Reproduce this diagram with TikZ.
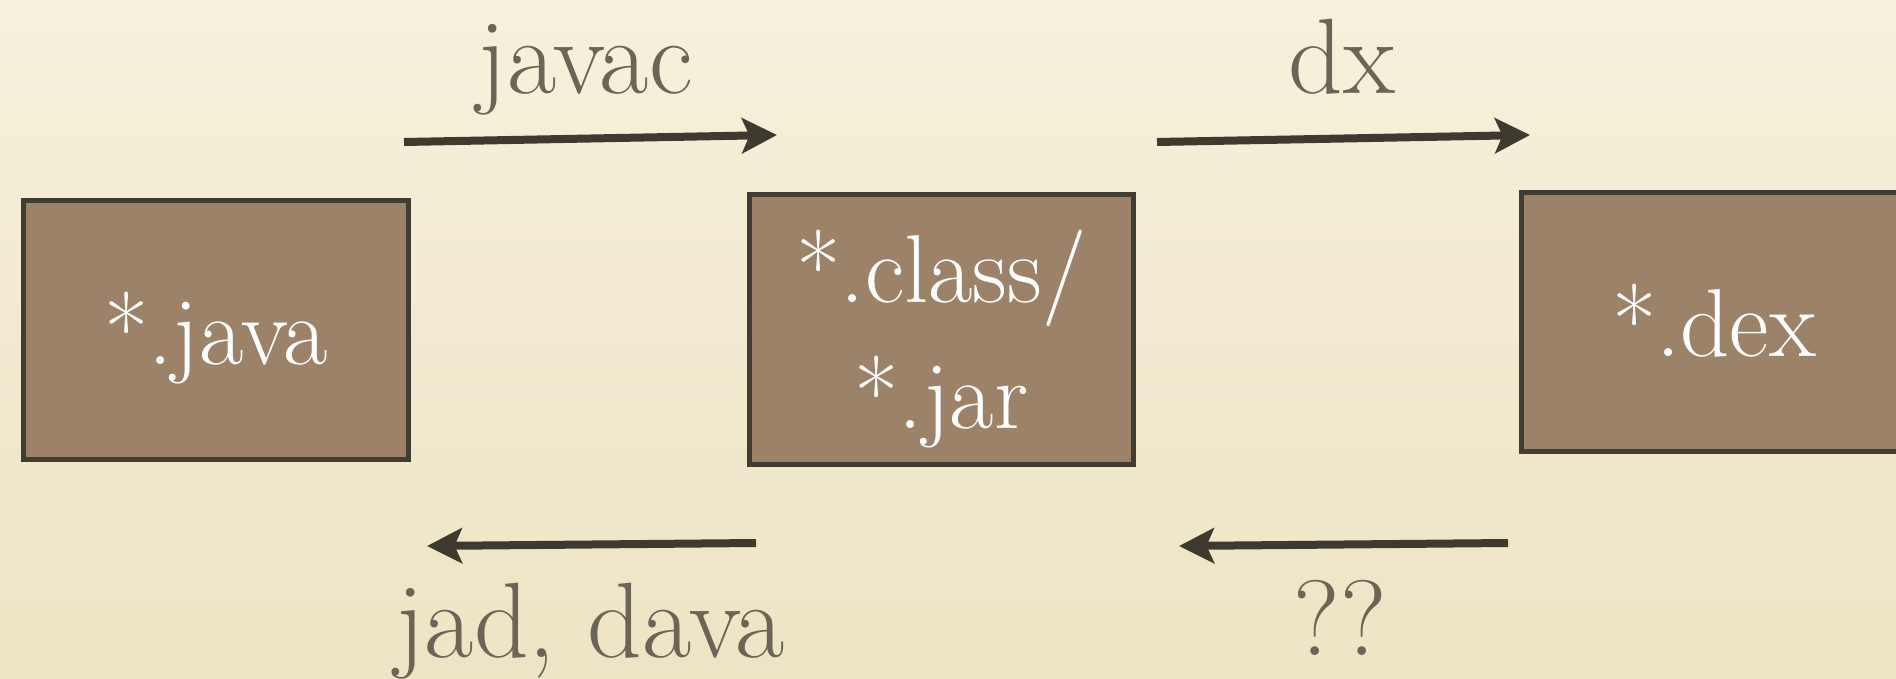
\documentclass[tikz,border=0pt]{standalone}
\usepackage{tikz}
\usepackage{xcolor}
\usetikzlibrary{arrows.meta}

\definecolor{paper}{RGB}{247,241,220}
\definecolor{paperlow}{RGB}{237,228,197}
\definecolor{boxfill}{RGB}{156,130,105}
\definecolor{boxedge}{RGB}{66,61,50}
\definecolor{tooltext}{RGB}{107,101,88}
\definecolor{arrowink}{RGB}{62,58,48}

\begin{document}
\begin{tikzpicture}[x=0.02cm, y=-0.02cm]
\tikzstyle{filebox} = [rectangle, draw=boxedge, line width=0.1cm, fill=boxfill, text=white, font=\fontsize{55pt}{72pt}\selectfont, align=center, minimum width=7.72cm, minimum height=5.2cm, text depth=0pt]
\tikzstyle{tool} = [text=tooltext, font=\fontsize{61pt}{70pt}\selectfont, anchor=base, inner sep=0pt]
\tikzstyle{line} = [draw=arrowink, line width=0.16cm, -{Stealth[length=0.7cm, width=0.7cm, inset=0.15cm]}]

% page and background
\clip (0,0) rectangle (1896,679);
\shade[top color=paper, bottom color=paperlow] (0,0) rectangle (1896,679);

% file kinds
\node [filebox, text height=1.4cm] (java) at (216,330) {*.java};
\node [filebox, minimum width=7.7cm, minimum height=5.42cm] (class) at (941.5,329.5) {*.class/\\*.jar};
\node [filebox, text height=1.4cm] (dex) at (1714,322) {*.dex};

% ends of the arrows
\coordinate (javac-from) at (404,142);
\coordinate (javac-to) at (777,135);
\coordinate (dx-from) at (1157,142);
\coordinate (dx-to) at (1530,135);
\coordinate (jad-from) at (756,543);
\coordinate (jad-to) at (427,546);
\coordinate (back-from) at (1508,543);
\coordinate (back-to) at (1179,546);

\draw [line] (javac-from) -- (javac-to);
\draw [line] (dx-from) -- (dx-to);
\draw [line] (jad-from) -- (jad-to);
\draw [line] (back-from) -- (back-to);

% tool names
\node [tool] (javac) at (585,93) {javac};
\node [tool] (dx) at (1342,93) {dx};
\node [tool] (jad) at (590,657) {jad, dava};
\node [tool] (unknown) at (1340,655) {??};

\end{tikzpicture}
\end{document}
